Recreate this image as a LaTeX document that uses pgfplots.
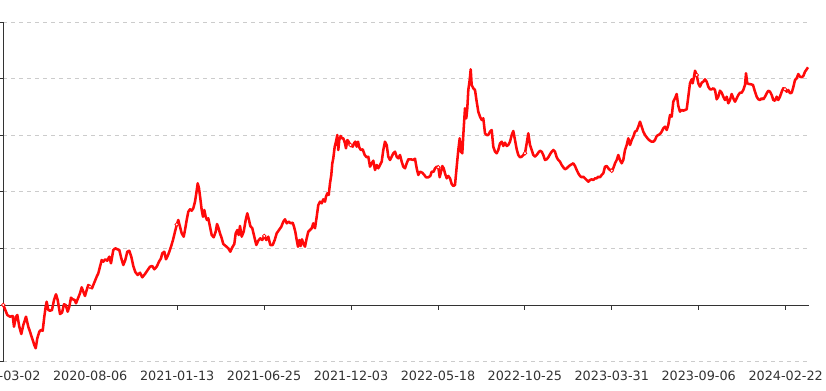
\documentclass[border=0pt]{standalone}
\usepackage{pgfplots}
\pgfplotsset{compat=1.18}
\usepackage{fontspec}
\setmainfont{DejaVu Sans}
\definecolor{axgray}{HTML}{333333}
\definecolor{gridgray}{HTML}{CCCCCC}
\definecolor{linered}{HTML}{FF0A0A}
\begin{document}
\begin{tikzpicture}
\begin{axis}[
  name=ax, scale only axis, width=603.9pt, height=254.55pt,
  xmin=3.3, xmax=808.5, ymin=22.3, ymax=361.7, y dir=reverse,
  axis line style={draw=none},
  xtick={3.3,90.2,177.2,264.1,351.0,438.0,524.9,611.8,698.7,785.7},
  xticklabels={2020-03-02,2020-08-06,2021-01-13,2021-06-25,2021-12-03,2022-05-18,2022-10-25,2023-03-31,2023-09-06,2024-02-22},
  xtick style={draw=none},
  xticklabel style={font=\fontsize{9.6}{11}\selectfont, text=axgray, yshift=-1.2pt},
  ytick={22.3,78.85,135.4,191.95,248.5,361.7}, yticklabels={},
  ytick pos=left, tick align=outside, major tick length=2.25pt,
  ytick style={axgray, line width=0.75pt},
  ymajorgrids,
  grid style={gridgray, dash pattern=on 3pt off 3pt, line width=0.75pt},
  extra y ticks={305.05}, extra y tick labels={},
  extra y tick style={grid=major, grid style={axgray, solid, line width=0.75pt}, tick style={axgray, line width=0.75pt}},
  clip=false,
]
\draw[axgray, line width=0.75pt] (rel axis cs:0,0) -- (rel axis cs:0,1);
\pgfplotsinvokeforeach{90.2,177.2,264.1,351.0,438.0,524.9,611.8,698.7,785.7}{
  \draw[axgray, line width=0.75pt] (axis cs:#1,305.05) -- ([yshift=-3.75pt]axis cs:#1,305.05);
}
\addplot[linered, line width=1.9pt, line join=round, mark=none] coordinates {
(3.3,305) (7.3,315) (10,316.7) (12.7,316) (14,326.7) (16,316.7) (17.3,315) (19.3,326.7) (21.3,334) (23.3,325) (26,316.7) (28.3,326.7) (30,331.7) (32.7,340) (34.3,345) (35.7,348.3) (37.3,338.3) (39.3,331.7) (41,330) (42.7,330.7) (44.3,316.7) (45.7,306.7) (46.7,301.7) (48.3,310) (50,310.7) (52,310) (54,300) (56,294.3) (57.7,300) (60,314) (62,312.7) (64,304.3) (65.7,305) (67.7,311.7) (69.3,306.7) (71,297.7) (72.7,299.3) (74.7,300) (76,303.3) (78,298.3) (80,293.3) (81.7,287.3) (83.3,291.7) (85,296) (86.7,290) (88.3,285) (90,286.7) (92,288.3) (94,283.3) (96.7,276.7) (98.3,273.3) (100,266.7) (101.7,260) (103.3,261.7) (105.3,259.3) (107.3,260.7) (109.3,256.7) (111,263.3) (113.3,250) (115.3,248.3) (117.3,249.3) (119.3,250) (121.3,258.3) (123.3,265) (125.3,260) (127.3,251.7) (129.3,250.7) (131.3,256.7) (133.3,266)
(135.3,272) (137.7,275) (140,272.7) (142.3,277.3) (145,274) (147.7,270) (150,266.7) (152.3,266) (154.3,269.3) (156.7,266.7) (159,261.7) (161,258.3) (162.3,253.3) (164.3,251.7) (166,259.3) (167.7,256) (169.3,251.7) (171,246.7) (173,240) (175,231.7) (176.7,225) (178.3,220) (180,226.7) (181.7,233.3) (183.7,236.7) (185,230) (186.7,220) (188.3,211.7) (190,209.3) (191.7,210.7) (193.3,208.3) (195,201.7) (196.3,193.3) (197.7,183.3) (199,188.3) (200.3,198.3) (201.7,210) (203,216.7) (204.3,210) (205.7,216.7) (207,220) (208.3,218.3) (210,226.7) (211.7,235) (213.7,237.3) (215.7,231.7) (217,224) (218.3,227.3) (220,233.3) (221.7,238.3) (223.3,244) (225.7,246) (228.3,248.3) (230.3,251.7) (232.3,247.3) (234.3,244) (235.7,233.3) (237.3,230) (238.7,235) (240,226) (241.7,236.7) (243.7,231.7) (245.7,220) (247.3,213.3) (249,220) (250.3,226) (252.3,228.3) (254.3,236.7) (256.3,245) (258.3,240.7) (260.3,238.3) (262.3,240) (264.3,236) (266.3,240) (268.3,236.7) (270.3,245)
(272.7,245) (274.7,240) (276.7,233.3) (279,230) (281.3,226.7) (283.3,221.7) (285,219.3) (286.7,223.3) (288.7,221.7) (290.7,223.3) (292.7,222.7) (294,226.7) (295.3,231.7) (296.7,240) (298,246.7) (299.3,240) (300.7,246) (302,239.3) (303.3,243.3) (305,246.7) (306.7,238.3) (308.3,231.7) (310,230) (311.7,228.3) (313.3,223.3) (315,228.3) (316.7,216.7) (318.3,205) (320,201.7) (321.7,203.3) (323.3,199.3) (325,201.7) (326,196.7) (327.3,193.3) (328.7,195) (330,183.3) (331.3,175) (332.3,163.3) (333.3,158.3) (334.7,146.7) (336,141.7) (337.3,135) (338.3,150) (339.3,140) (340.7,136) (342,138.3) (343.3,138.3) (345,143.3) (346,148.3) (347.3,140) (348.7,141.7) (350,145) (351.3,145.5) (352.7,146.7) (354,143.3) (355.3,141.7) (356.7,146.7) (358,141.7) (359.3,147.3) (360.7,150) (362.7,149.3) (364.7,155) (366.7,157.3) (368.3,156.7) (370,166.7) (371.7,163.3) (373.3,160.7) (375,170) (376.7,165) (378.3,168.3) (380,165) (381.7,161.7) (383.3,150) (385,141.7) (386.7,145) (388.3,156.7) (390,160) (391.7,156.7) (393.3,153.3) (395,151.7) (396.7,156.7) (398.3,158.3) (400,155) (401.7,161.7) (403.3,166.7)
(405,168.3) (406.7,163.3) (408.3,159.3) (411,159.3) (413.3,160) (415,158.7) (416.7,168.3) (418.3,175) (420,171.7) (422.3,172.7) (424.3,175) (426,177.3) (428.3,177.3) (430.3,176) (431.7,171.7) (433.7,171.7) (435,168.3) (436.7,166.7) (438.3,167.3) (439.7,177.3) (441,171.7) (442.3,166) (443.7,168.3) (445,173.3) (446.7,178.3) (448.3,176) (450,178.3) (451.7,184) (453.3,186) (455,185) (456.7,166.7) (458.3,150) (459.7,138.3) (461,151.7) (462.3,153.3) (463.7,128.3) (465,108.3) (466.3,118.3) (467.3,108.3) (468.3,90) (469.7,80) (470.7,69.3) (471.7,85) (473.3,88.3) (475,90) (476.7,101.7) (478.3,111.7) (480,116.7) (481.7,120) (483.3,118.3) (485,133.3) (486.7,135) (488.3,135) (490,131.7) (491.7,130) (493.3,146.7) (495,151.7) (496.7,153.3) (498.3,150) (500,143.3) (501.7,141.7) (503.3,146) (505,142.7) (506.7,146) (508.3,145) (510,141.7) (511.7,135) (513.3,131) (515,140) (516.7,149.3) (518.3,155) (520,157.3) (521.7,156.7) (523.3,155) (525,153.3) (526.7,143.3) (528.3,133.3) (530,145) (531.7,150) (533.3,155) (535,156.7) (536.7,155) (538.3,152.7)
(540,150.7) (541.7,151.7) (543.3,155) (545,160) (546.7,159.3) (548.3,157.3) (550,154.3) (551.7,151.7) (553.3,150) (555,151.7) (556.7,157.3) (558.3,160) (560,161.7) (561.7,165) (563.3,167.3) (565,169.3) (566.7,168.3) (568.3,166.7) (570,165.3) (571.7,164.3) (573.3,163.3) (575,166) (576.7,170) (578.3,173.3) (580,176) (581.7,177.3) (583.3,176.7) (585,178.3) (586.7,180) (588.3,181.7) (590,180) (591.7,179.3) (593.3,180) (595,178.3) (596.7,178.3) (598.3,176.7) (600,177.3) (601.7,175) (603.3,173.3) (605,166.7) (606.7,166) (608.3,168.3) (610,170) (611.7,170.7) (613.3,168.3) (615,163.3) (616.7,160) (618.3,155) (620,160) (621.7,163.3) (623.3,160) (625,150) (626.7,145) (628.3,138.3) (630,145) (631.7,140) (633.3,136.7) (635,131.7) (636.7,130.7) (638.3,126.7) (640,121.7) (641.7,126.7) (643.3,131.7) (645,135) (646.7,137.3) (648.3,139.3) (650,140.7) (651.7,141.7) (653.3,141.7) (655,140) (656.7,136) (658.3,135) (660,134) (661.7,131.7) (663.3,128.3) (665,126.7) (666.7,130) (668.3,125) (670,115) (671.7,116.7) (673.3,101.7) (675,98.3)
(676.7,94) (678.3,106) (680,111.7) (681.7,110) (683.3,110.7) (685,110) (686.7,109.3) (688.3,96.7) (690,83.3) (691.7,79.3) (692.7,83.3) (694,76.7) (695,70.7) (696.7,75) (698.3,83.3) (700,86.7) (701.7,82.7) (703.3,81.7) (705,79.3) (706.7,81.7) (708.3,86.7) (710,89.3) (711.7,89.3) (713.3,88.3) (715,90) (716.7,99.3) (718.3,96.7) (720,90.7) (721.7,92.7) (723.3,96.7) (725,100) (726.7,96.7) (728.3,103.3) (730,100) (731.7,94) (733.3,98.3) (735,101.7) (736.7,98.3) (738.3,95) (740,92.7) (741.7,92.7) (743.3,90) (745,85) (746,73.3) (747.3,83.3) (749,84) (751,84.3) (753,85) (755,91.7) (756.7,96.7) (758.3,99.3) (760,100) (761.7,98.3) (763.3,99.3) (765,96.7) (766.7,93.3) (768.3,90.7) (770,91.7) (771.7,95) (773.3,100) (775,100.7) (776.7,96.7) (778.3,100) (780,96.7) (781.7,91.7) (783.3,88.3) (785,89.3) (786.7,91.7) (788.3,90) (790,93.3) (791.7,92.7) (793.3,87.3) (795,80) (796.7,78.3) (798.3,74) (800,76.7) (801.7,77.3) (803.3,76) (805,71.7) (806.7,69.3) (808,67.3)
};
\addplot[only marks, mark=*, mark size=1.4pt, mark options={draw=linered, fill=white, line width=0.6pt}] coordinates {
(3.3,305) (90,286.7) (176.7,224.5) (264.3,236) (350.5,145) (438.3,167.3) (525,153.3) (611.7,170.7) (696.7,75) (785,89.3)
};
\end{axis}
\pgfresetboundingbox
\path[use as bounding box] ([xshift=-2.475pt,yshift=-21.975pt]ax.south west) rectangle ([xshift=13.125pt,yshift=16.725pt]ax.north east);
\end{tikzpicture}
\end{document}
